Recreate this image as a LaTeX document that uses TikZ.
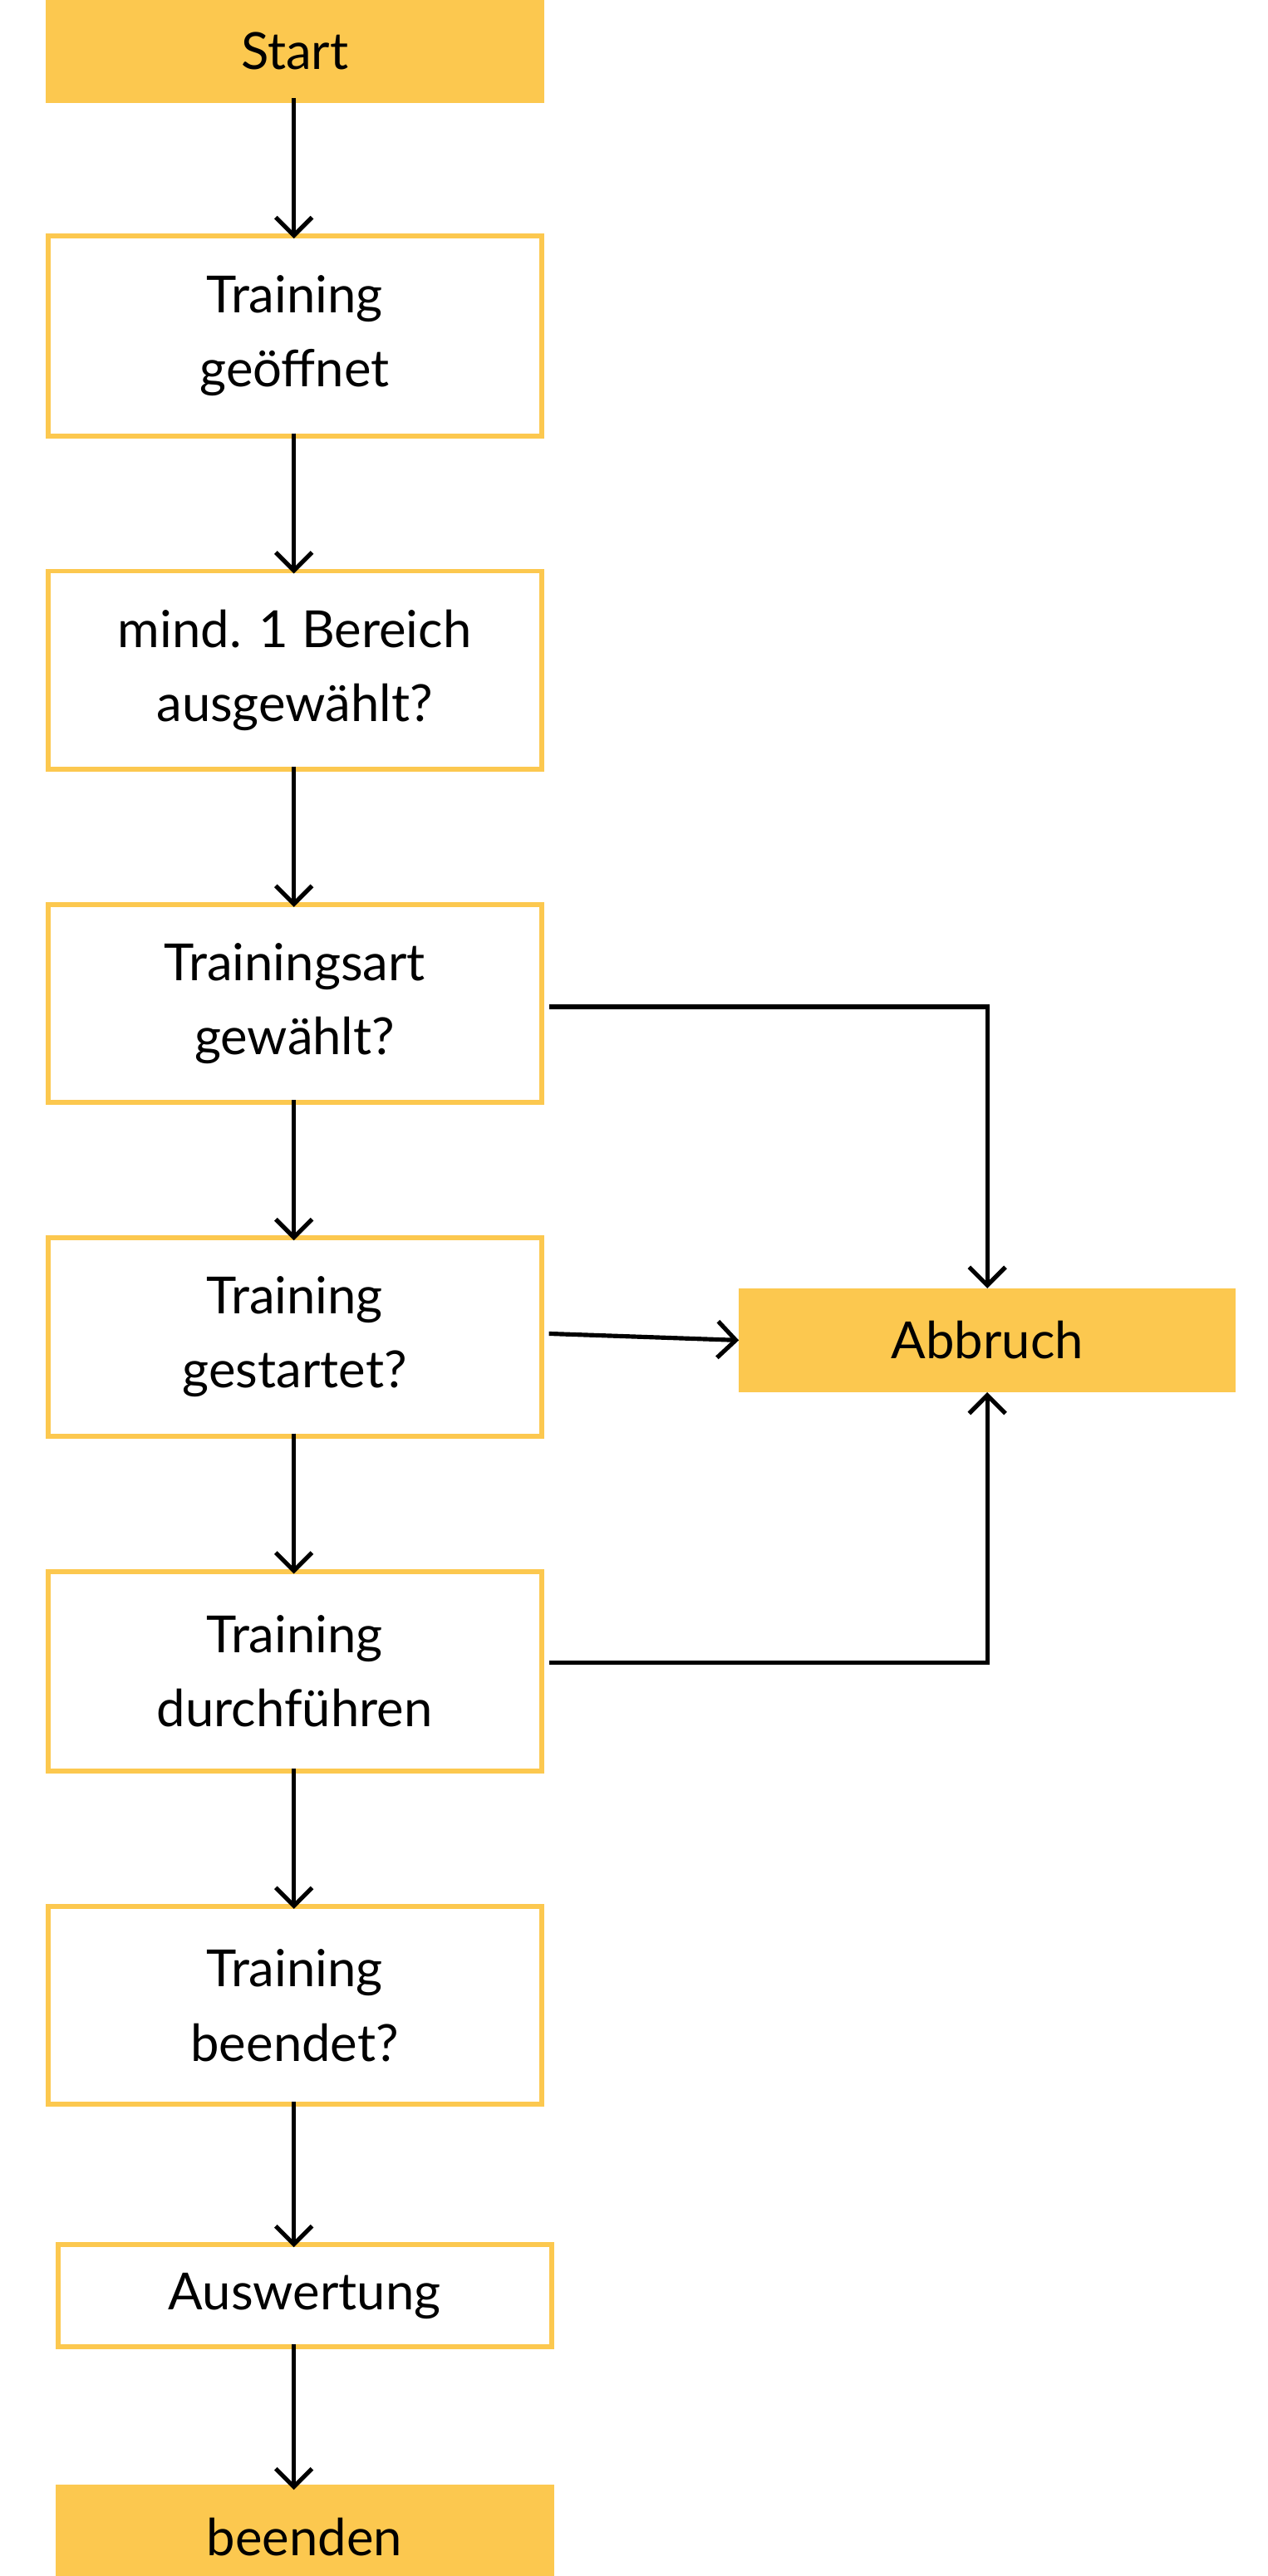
\documentclass[tikz,border=0pt]{standalone}
\usepackage{fontspec}
\setmainfont{Lato}
\usetikzlibrary{arrows.meta}
\definecolor{yel}{HTML}{FCC84F}
\begin{document}
\begin{tikzpicture}[x=1pt,y=-1pt,
 box/.style={draw=yel,line width=3pt,fill=white,align=center,inner sep=0pt,font=\fontsize{31}{45}\selectfont},
 fbox/.style={box,fill=yel},
 arr/.style={line width=2.6pt,-{Straight Barb[length=11pt,width=22pt,line width=2.6pt]}}]
\useasboundingbox (0,0) rectangle (768,1560.7);
\def\bx#1#2#3#4#5#6#7{\node[#1,minimum width=#4-#3,minimum height=#6-#5] (#2) at ({(#3+#4)/2},{(#5+#6)/2}) {#7};}
\bx{fbox}{start}{29}{328}{1}{61}{Start}
\bx{box}{b1}{29}{328}{143}{264}{Training\\geöffnet}
\bx{box}{b2}{29}{328}{346}{466}{mind. 1 Bereich\\ausgewählt?}
\bx{box}{b3}{29}{328}{548}{668}{Trainingsart\\gewählt?}
\bx{box}{b4}{29}{328}{750}{870}{Training\\gestartet?}
\bx{box}{b5}{29}{328}{952}{1073}{Training\\durchführen}
\bx{box}{b6}{29}{328}{1155}{1275}{Training\\beendet?}
\bx{box}{b7}{35}{334}{1360}{1422}{Auswertung}
\bx{fbox}{b8}{35}{334}{1507}{1567}{beenden}
\bx{fbox}{ab}{449}{747}{782}{842}{Abbruch}
\foreach \a/\b in {start/b1,b1/b2,b2/b3,b3/b4,b4/b5,b5/b6,b6/b7,b7/b8}
 \draw[arr] ([yshift=3pt]\a.south -| 178,0) -- ([yshift=-3pt]\b.north -| 178,0);
\draw[arr] ([xshift=3pt,yshift=-2pt]b3.east) -| (ab.north);
\draw[arr] ([xshift=3pt,yshift=2pt]b4.east) -- (ab.west);
\draw[arr] ([xshift=3pt,yshift=5pt]b5.east) -| (ab.south);
\end{tikzpicture}
\end{document}
